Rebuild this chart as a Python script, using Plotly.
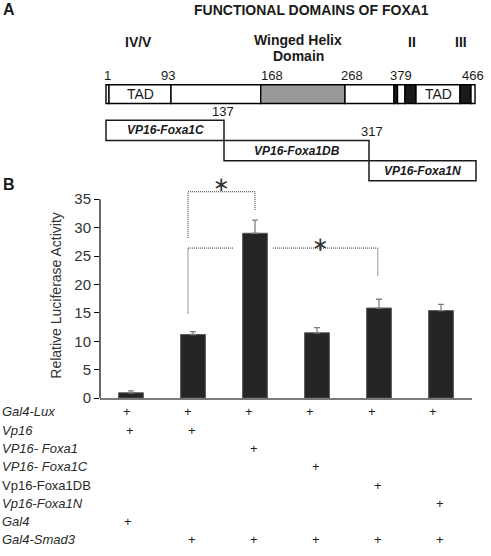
import plotly.graph_objects as go

# ---------------- data ----------------
conditions = ["Gal4", "Vp16", "VP16-Foxa1", "VP16-Foxa1C", "VP16-Foxa1DB", "VP16-Foxa1N"]
activity = [0.95, 11.2, 29.0, 11.5, 15.85, 15.4]
activity_err = [0.35, 0.5, 2.3, 0.9, 1.55, 1.1]
y_ticks = [0, 5, 10, 15, 20, 25, 30, 35]

row_labels = ["Gal4-Lux", "Vp16", "VP16- Foxa1", "VP16- Foxa1C", "Vp16-Foxa1DB",
              "Vp16-Foxa1N", "Gal4", "Gal4-Smad3"]
row_italic = [True, True, True, True, False, True, True, True]
row_plus = [[0, 1, 2, 3, 4, 5], [0, 1], [2], [3], [4], [5], [0], [1, 2, 3, 4, 5]]

# significance brackets (bar index / value units)
sig1 = dict(x_left=0.92, x_right=2.0, top=36.3, left_bottom=28.2, right_bottom=33.1, star=(1.46, 37.6))
sig2 = dict(x_left=0.92, x_right=3.98, top=26.4, left_bottom=14.9, right_bottom=21.6,
            gap=(1.66, 2.29), star=(3.06, 27.2))

# schematic of FOXA1 (schematic drawing units)
residue_labels = ["1", "93", "168", "268", "379", "466"]
residue_label_x = [107, 168, 272, 352, 401, 473]
domain_segments = [  # (start, end, fill, text)
    (106, 109, "white", ""),
    (109, 171, "white", "TAD"),
    (171, 260.7, "white", ""),
    (260.7, 345, "#999999", ""),
    (345, 394, "white", ""),
    (394, 397.5, "#1a1a1a", ""),
    (397.5, 405, "white", ""),
    (405, 416, "#1a1a1a", ""),
    (416, 460, "white", "TAD"),
    (460, 471, "#1a1a1a", ""),
    (471, 475, "white", ""),
]
fragments = [  # (name, start, end, row)
    ("VP16-Foxa1C", 106, 224, 0),
    ("VP16-Foxa1DB", 224, 369, 1),
    ("VP16-Foxa1N", 369, 476, 2),
]
fragment_cut_labels = [("137", 223), ("317", 372)]
region_labels = [("IV/V", 138), ("II", 412), ("III", 461)]

FONT = "Liberation Sans, Arial, sans-serif"
W, H = 491, 556

fig = go.Figure()
x_idx = list(range(len(conditions)))
fig.add_trace(go.Bar(
    x=x_idx, y=activity, width=0.40,
    marker=dict(color="#252525", line=dict(color="#5a5a5a", width=1)),
    error_y=dict(type="data", array=activity_err, arrayminus=[0] * len(activity_err),
                 symmetric=False, color="#808080", thickness=1.3, width=3),
    hovertext=conditions, showlegend=False,
))
# helper trace for schematic axes
fig.add_trace(go.Scatter(x=[0], y=[0], xaxis="x2", yaxis="y2", mode="markers",
                         marker=dict(opacity=0), showlegend=False, hoverinfo="skip"))

shapes = []
ann = []

# ---- y axis line (0..35)
shapes.append(dict(type="line", xref="paper", yref="y", x0=100 / W, x1=100 / W, y0=0, y1=35,
                   line=dict(color="black", width=1.2)))

# ---- brackets
def bracket(s):
    d = dict(type="line", xref="x", yref="y", line=dict(color="#333333", width=1, dash="1px,1px"))
    out = [dict(d, x0=s["x_left"], x1=s["x_left"], y0=s["left_bottom"], y1=s["top"]),
           dict(d, x0=s["x_right"], x1=s["x_right"], y0=s["right_bottom"], y1=s["top"])]
    if "gap" in s:
        out.append(dict(d, x0=s["x_left"], x1=s["gap"][0], y0=s["top"], y1=s["top"]))
        out.append(dict(d, x0=s["gap"][1], x1=s["x_right"], y0=s["top"], y1=s["top"]))
    else:
        out.append(dict(d, x0=s["x_left"], x1=s["x_right"], y0=s["top"], y1=s["top"]))
    return out

for s in (sig1, sig2):
    shapes += bracket(s)
    ann.append(dict(xref="x", yref="y", x=s["star"][0], y=s["star"][1], text="∗",
                    showarrow=False, font=dict(family="DejaVu Sans", size=20, color="#333333")))

# ---- table rows
row_y0, row_dy = 418, 18.55
for i, (lab, it, pl) in enumerate(zip(row_labels, row_italic, row_plus)):
    y = row_y0 + i * row_dy
    ann.append(dict(xref="paper", yref="y2", x=0.0, y=y, xanchor="left", yanchor="middle",
                    text=f"<i>{lab}</i>" if it else lab, showarrow=False,
                    font=dict(family=FONT, size=13, color="#2a2a2a")))
    for j in pl:
        shift = -round(4 + 0.85 * j) if i == 0 else (-3 if i == 6 else -1)
        ann.append(dict(xref="x", yref="y2", x=j, y=y, text="+", showarrow=False,
                        xanchor="center", yanchor="middle", xshift=shift,
                        font=dict(family=FONT, size=13, color="#222222")))

# ---- schematic
bar_top, bar_bot = 86, 105
for (a, b, fill, txt) in domain_segments:
    shapes.append(dict(type="rect", xref="x2", yref="y2", x0=a, x1=b, y0=bar_top, y1=bar_bot,
                       fillcolor=fill, line=dict(color="black", width=1.4)))
    if txt:
        ann.append(dict(xref="x2", yref="y2", x=(a + b) / 2, y=(bar_top + bar_bot) / 2, text=txt,
                        showarrow=False, font=dict(family=FONT, size=14, color="#1a1a1a")))
for lab, xx in zip(residue_labels, residue_label_x):
    ann.append(dict(xref="x2", yref="y2", x=xx, y=77, text=lab, showarrow=False,
                    font=dict(family=FONT, size=13, color="#1a1a1a")))
frag_top, frag_h = 122, 20.5
for (name, a, b, r) in fragments:
    y0 = frag_top + r * frag_h
    shapes.append(dict(type="rect", xref="x2", yref="y2", x0=a, x1=b, y0=y0, y1=y0 + frag_h,
                       fillcolor="white", line=dict(color="#1a1a1a", width=1.5)))
    ann.append(dict(xref="x2", yref="y2", x=(a + b) / 2, y=y0 + frag_h / 2,
                    text=f"<b><i>{name}</i></b>", showarrow=False,
                    font=dict(family=FONT, size=12, color="#1a1a1a")))
for k, (lab, xx) in enumerate(fragment_cut_labels):
    ann.append(dict(xref="x2", yref="y2", x=xx, y=frag_top - 9 + k * frag_h, text=lab,
                    showarrow=False, font=dict(family=FONT, size=13, color="#1a1a1a")))
for lab, xx in region_labels:
    ann.append(dict(xref="x2", yref="y2", x=xx, y=43, text=f"<b>{lab}</b>", showarrow=False,
                    font=dict(family=FONT, size=14, color="#1a1a1a")))
ann.append(dict(xref="x2", yref="y2", x=298, y=41, text="<b>Winged Helix</b>", showarrow=False,
                font=dict(family=FONT, size=14, color="#1a1a1a")))
ann.append(dict(xref="x2", yref="y2", x=298, y=57, text="<b>Domain</b>", showarrow=False,
                font=dict(family=FONT, size=14, color="#1a1a1a")))
ann.append(dict(xref="x2", yref="y2", x=311, y=10, text="<b>FUNCTIONAL DOMAINS OF FOXA1</b>",
                showarrow=False, font=dict(family=FONT, size=14, color="#1a1a1a")))
ann.append(dict(xref="x2", yref="y2", x=1, y=10, xanchor="left", text="<b>A</b>", showarrow=False,
                font=dict(family=FONT, size=16, color="#1a1a1a")))
ann.append(dict(xref="x2", yref="y2", x=1, y=187, xanchor="left", text="<b>B</b>", showarrow=False,
                font=dict(family=FONT, size=16, color="#1a1a1a")))
ann.append(dict(xref="x2", yref="y2", x=56, y=300, text="Relative Luciferase Activity",
                textangle=-90, showarrow=False, font=dict(family=FONT, size=14, color="#333333")))

zero_px, px_per_unit, y_max = 404, 5.77, 39
fig.update_layout(
    width=W, height=H, margin=dict(l=0, r=0, t=0, b=0),
    paper_bgcolor="white", plot_bgcolor="rgba(0,0,0,0)", showlegend=False,
    bargap=0,
    xaxis=dict(domain=[100 / W, 472 / W], range=[-0.5, 5.5], showline=True, linecolor="#7a7a7a",
               linewidth=1.6, showticklabels=False, ticks="", showgrid=False, zeroline=False,
               fixedrange=True),
    yaxis=dict(domain=[(H - zero_px) / H, (H - (zero_px - y_max * px_per_unit)) / H],
               range=[0, y_max], tickvals=y_ticks, ticks="outside", ticklen=5, tickcolor="black",
               tickwidth=1, showline=False, showgrid=False, zeroline=False,
               tickfont=dict(family=FONT, size=15, color="#333333")),
    xaxis2=dict(domain=[0, 1], range=[0, W], visible=False, anchor="y2", fixedrange=True),
    yaxis2=dict(domain=[0, 1], range=[H, 0], visible=False, anchor="x2", fixedrange=True),
    shapes=shapes, annotations=ann,
)
page_js = ("var s=document.documentElement.style;s.margin='0';s.overflow='hidden';s.height='556px';"
           "var b=document.body.style;b.margin='0';b.overflow='hidden';b.height='556px';")
fig.write_html("out.html", config={"displayModeBar": False, "staticPlot": True}, post_script=page_js)
